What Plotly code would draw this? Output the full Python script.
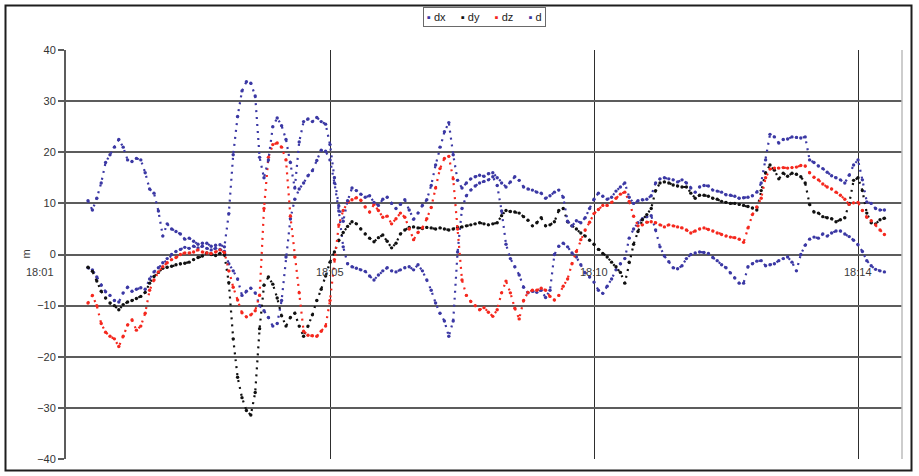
import plotly.graph_objects as go

# Sampling: one reading every 5 s, first reading 25 s after the 18:01 gridline
t_first, t_step, n_samples = 25, 5, 182
seconds = [t_first + t_step * i for i in range(n_samples)]

# Time gridlines (seconds after the first one) and their labels
tick_pos = [0, 300, 600, 900]
tick_text = ["18:01", "18:05", "18:10", "18:14"]

# Coordinate offsets in metres
dx = [
    -2.6, -3.0, -4.4, -6.0, -7.3, -8.0, -9.0, -9.3, -7.5, -6.4,
    -7.2, -6.8, -6.5, -6.8, -4.8, -3.4, -2.6, -1.6, -0.8, 0.0,
    0.6, 1.0, 1.4, 1.2, 1.6, 1.3, 1.6, 1.2, 0.9, 1.2,
    1.0, 0.6, -1.8, -3.2, -4.8, -8.0, -7.2, -6.6, -7.5, -10.0,
    -11.0, -12.3, -14.0, -13.5, -9.0, -0.5, 7.0, 10.8, 12.8, 14.0,
    15.4, 16.4, 18.4, 20.4, 20.2, 18.5, 14.0, 8.5, 1.5, -1.8,
    -2.4, -2.7, -3.0, -3.3, -4.2, -5.0, -4.0, -3.2, -2.6, -3.2,
    -3.4, -3.0, -2.6, -2.4, -3.0, -2.0, -3.2, -5.0, -7.0, -9.5,
    -11.5, -13.0, -16.0, -13.0, 0.5, 9.0, 11.5, 12.6, 13.4, 14.0,
    14.3, 14.6, 15.2, 13.5, 8.5, 2.0, -0.8, -2.4, -4.0, -6.4,
    -7.5, -7.2, -7.4, -7.0, -8.4, -7.0, 0.0, 1.6, 2.2, 1.5,
    0.3, -0.5, -2.0, -3.6, -4.4, -5.4, -7.0, -7.6, -6.2, -4.8,
    -3.0, -1.8, -0.8, 3.2, 5.0, 6.2, 7.0, 7.4, 7.6, 4.8,
    1.5, -0.3, -1.4, -2.6, -2.8, -2.2, -0.8, 0.0, 0.3, 0.5,
    0.4, 0.2, -0.6, -1.2, -2.0, -2.6, -3.6, -4.6, -5.6, -5.6,
    -2.4, -1.8, -1.3, -1.2, -2.2, -2.0, -1.8, -1.2, -0.8, -0.5,
    -1.5, -3.2, 0.0, 1.8, 3.0, 3.4, 3.2, 4.0, 3.6, 4.2,
    4.6, 4.6, 4.0, 3.5, 2.8, 1.9, 0.6, -1.2, -2.2, -2.9,
    -3.2, -3.4,
]

dy = [
    -2.5, -3.3, -5.2, -7.2, -8.5, -9.5, -10.0, -10.8, -9.8, -9.3,
    -9.0, -8.6, -8.2, -7.4, -5.6, -4.3, -3.5, -2.7, -2.5, -2.3,
    -2.0, -1.8, -1.7, -1.5, -1.0, -0.6, -0.3, 0.3, 0.0, -0.2,
    0.2, 0.0, -5.5, -16.5, -24.0, -28.0, -30.5, -31.4, -27.0, -14.5,
    -6.0, -4.4, -5.8, -8.5, -12.0, -14.0, -12.3, -11.5, -14.0, -16.0,
    -14.0, -11.8, -9.0, -6.8, -4.2, -1.5, 0.5, 2.8, 4.3, 5.5,
    6.4, 6.0, 5.0, 4.0, 3.2, 2.5, 3.3, 3.8, 2.6, 1.3,
    2.2, 4.0, 4.8, 5.3, 5.4, 5.2, 5.1, 5.3, 5.2, 5.0,
    5.2, 5.0, 4.8, 5.0, 5.3, 5.4, 5.6, 5.8, 6.0, 6.2,
    6.0, 5.8, 6.0, 6.2, 7.6, 8.6, 8.4, 8.3, 8.1, 7.4,
    6.7, 5.6, 6.2, 7.2, 5.6, 5.8, 6.4, 8.6, 9.0, 6.4,
    5.6, 5.0, 4.2, 3.6, 2.8, 2.0, 1.0, 0.2, -0.5, -1.5,
    -2.4, -3.5, -5.6, -1.5, 2.0, 4.5, 6.8, 7.8, 9.0, 12.5,
    14.0, 14.2, 14.0, 13.6, 13.4, 13.2, 13.2, 12.0, 11.0, 11.6,
    11.6, 11.4, 11.0, 10.8, 10.4, 10.2, 10.0, 10.0, 9.8, 9.6,
    9.4, 9.1, 8.7, 12.5, 16.0, 17.5, 16.5, 14.8, 15.9, 15.3,
    15.9, 15.7, 15.2, 14.0, 9.8, 8.3, 8.1, 7.4, 7.2, 7.0,
    6.4, 6.8, 7.2, 10.0, 14.5, 15.0, 12.5, 8.1, 6.2, 6.0,
    6.8, 7.1,
]

dz = [
    -9.5, -8.0, -10.0, -13.5, -15.2, -16.0, -16.5, -18.0, -16.0, -13.8,
    -12.8, -14.8, -14.0, -11.5, -7.0, -5.0, -3.4, -2.4, -1.6, -1.0,
    -0.6, 0.0, 0.3, 0.3, 0.5, 0.9, 0.5, 0.3, 0.2, 0.5,
    0.9, 0.4, -3.2, -6.4, -8.9, -11.4, -12.2, -11.8, -11.0, -8.0,
    9.0, 19.0, 21.5, 21.8, 21.0, 18.5, 7.5, -0.5, -7.5, -15.0,
    -15.8, -15.9, -16.0, -15.0, -14.0, -9.0, -1.0, 5.8, 8.6, 10.2,
    10.7, 11.1, 10.6, 9.3, 8.3, 9.8, 8.6, 7.3, 7.5, 6.0,
    7.0, 8.1, 7.3, 5.0, 2.9, 4.3, 5.2, 7.0, 9.2, 13.0,
    16.8, 18.8, 19.2, 14.8, 5.0, -5.0, -8.0, -9.2, -10.0, -10.8,
    -10.4, -11.3, -12.1, -10.8, -7.5, -5.2, -7.5, -10.5, -12.6, -9.0,
    -7.4, -7.0, -7.0, -6.6, -7.0, -8.2, -8.9, -8.0, -6.2, -4.8,
    -1.8, 0.6, 2.9, 4.8, 6.3, 8.0, 8.8, 9.6, 9.6, 10.2,
    11.0, 11.8, 12.2, 10.4, 7.5, 5.6, 5.8, 6.3, 6.4, 6.2,
    5.8, 5.4, 5.8, 5.6, 5.4, 5.2, 4.8, 4.2, 4.6, 5.0,
    5.2, 4.9, 4.6, 4.2, 3.9, 3.6, 3.4, 3.3, 3.0, 2.4,
    5.2, 7.8, 9.3, 11.0, 15.0, 16.7, 16.9, 16.9, 17.0, 16.9,
    17.0, 17.1, 17.4, 17.3, 16.0, 15.1, 14.6, 13.8, 13.2, 12.8,
    12.2, 11.6, 10.8, 9.8, 10.1, 10.2, 8.6, 7.3, 6.6, 5.8,
    4.8, 3.9,
]

d = [
    10.5, 8.7, 11.0, 14.0, 18.0, 19.5, 21.0, 22.5, 21.0, 18.5,
    18.2, 18.8, 18.5, 16.0, 12.8, 12.0, 8.5, 3.6, 6.0, 5.0,
    4.5, 4.0, 3.0, 3.2, 2.6, 2.0, 2.2, 2.2, 1.6, 1.8,
    1.9, 1.5, 8.0, 19.5, 27.0, 32.0, 33.8, 33.5, 31.0, 19.0,
    15.0, 18.5, 25.0, 26.7, 25.2, 22.5, 18.0, 13.0, 22.0, 26.0,
    26.5, 26.0, 26.8, 26.0, 25.5, 21.5, 15.0, 9.5, 6.5, 10.5,
    13.0, 12.5, 11.8, 11.2, 11.5, 10.2, 9.6, 10.8, 11.2, 10.0,
    9.0, 9.8, 10.7, 8.7, 6.9, 8.1, 9.6, 10.7, 13.5, 17.5,
    21.0, 24.0, 25.8, 19.5, 14.5, 13.0, 14.0, 14.8, 15.2, 15.5,
    15.3, 15.8, 16.0, 15.0, 14.0, 13.2, 14.2, 15.2, 14.5, 13.2,
    12.8, 12.6, 12.2, 12.0, 11.0, 11.5, 12.2, 12.6, 11.2, 6.5,
    5.6, 6.6, 6.2, 7.2, 9.0, 10.8, 12.0, 11.4, 10.8, 11.2,
    12.4, 13.2, 14.0, 11.2, 10.0, 10.5, 10.7, 10.8, 11.5, 14.0,
    14.8, 15.0, 14.8, 14.6, 14.2, 14.6, 14.0, 13.0, 12.2, 13.2,
    13.5, 13.4, 12.6, 12.4, 12.2, 11.7, 11.6, 11.4, 11.0, 11.1,
    11.2, 11.5, 12.2, 14.0, 18.5, 23.5, 23.0, 21.8, 22.5, 22.6,
    23.0, 22.9, 22.8, 23.0, 18.5, 18.0, 17.3, 16.8, 16.1, 15.4,
    15.0, 14.6, 14.0, 15.5, 17.5, 18.5, 14.6, 10.3, 10.0, 9.0,
    8.7, 8.7,
]

series = [
    ("dx", dx, "#3b38a4"),
    ("dy", dy, "#111111"),
    ("dz", dz, "#f5281e"),
    ("d", d, "#3b38a4"),
]

FONT = "Liberation Sans, Arial, sans-serif"

fig = go.Figure()
for name, values, color in series:
    # dense point trail: markers at each reading joined by a fine dotted trace
    fig.add_trace(go.Scatter(
        x=seconds, y=values, name=name, mode="lines+markers",
        line=dict(color=color, width=2.2, dash="2px,5px"),
        marker=dict(size=3.4, color=color, line=dict(width=0)),
        showlegend=False, cliponaxis=True,
    ))

# Time labels sit just under the zero line, as on a crossing category axis
annotations = []
for i, (pos, txt) in enumerate(zip(tick_pos, tick_text)):
    annotations.append(dict(
        x=pos, y=0, xref="x", yref="y", text=txt, showarrow=False,
        xanchor="center", yanchor="middle", yshift=-17,
        xshift=-26 if i == 0 else 0,
        font=dict(family=FONT, size=11, color="#3a3a3a"),
    ))

# Axis title
annotations.append(dict(
    x=-0.049, y=0, xref="paper", yref="y", text="m", textangle=-90,
    showarrow=False, xanchor="center", yanchor="middle",
    font=dict(family=FONT, size=11, color="#3a3a3a"),
))

# Compact legend box
legend_text = "     ".join(
    f"<span style='color:{c}'>\u25aa</span> {n}" for n, _, c in series
)
annotations.append(dict(
    x=0.5, y=(459 - 16.5) / 409, xref="paper", yref="paper",
    text=legend_text, showarrow=False, xanchor="center", yanchor="middle",
    font=dict(family=FONT, size=11, color="#222222"),
    bordercolor="#6a6a6a", borderwidth=1, borderpad=3, bgcolor="white",
))

shapes = [
    # light right border of the plot area
    dict(type="line", xref="paper", yref="paper", x0=1, x1=1, y0=0, y1=1,
         line=dict(color="#bdbdbd", width=1.5)),
    # outer chart frame
    dict(type="rect", xref="paper", yref="paper",
         x0=(5.5 - 66) / 836, x1=(911.5 - 66) / 836,
         y0=(459 - 470.5) / 409, y1=(459 - 5.5) / 409,
         line=dict(color="#1e1e1e", width=2)),
]

fig.update_layout(
    width=919, height=476,
    margin=dict(l=66, r=17, t=50, b=17),
    paper_bgcolor="white", plot_bgcolor="white",
    annotations=annotations, shapes=shapes,
    xaxis=dict(
        range=[0, 950], tickvals=tick_pos, showticklabels=False,
        showgrid=True, gridcolor="#2e2e2e", gridwidth=1.3,
        zeroline=False, showline=False, ticks="",
    ),
    yaxis=dict(
        range=[-40, 40], dtick=10, tick0=0,
        showgrid=True, gridcolor="#5c5c5c", gridwidth=1.6,
        zeroline=False, showline=True, linecolor="#5c5c5c", linewidth=2,
        ticks="outside", ticklen=6, tickcolor="#5c5c5c", tickwidth=1.5,
        tickfont=dict(family=FONT, size=11, color="#333333"),
    ),
    font=dict(family=FONT),
)

fig.write_html("out.html")
